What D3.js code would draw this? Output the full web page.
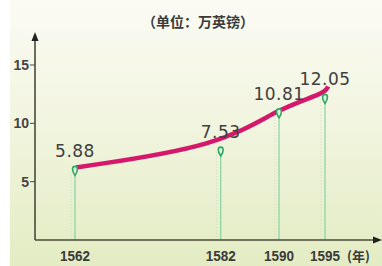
<!DOCTYPE html>
<html>
<head>
<meta charset="utf-8">
<script src="https://cdn.jsdelivr.net/npm/d3@7/dist/d3.min.js"></script>
<style>
  body { margin: 0; background: #fff; }
  svg { display: block; }
</style>
</head>
<body>
<script>
var width = 382,
    height = 266

var years = [1562, 1582, 1590, 1595]
var values = [5.88, 7.53, 10.81, 12.05]
var labels = ["5.88", "7.53", "10.81", "12.05"]
var yTicks = [5, 10, 15]

var svg = d3.select("body").append("svg")
    .attr("width", width)
    .attr("height", height)

var defs = svg.append("defs")
var grad = defs.append("linearGradient")
    .attr("id", "bg")
    .attr("x1", 0).attr("y1", 0).attr("x2", 0).attr("y2", 1)
grad.append("stop").attr("offset", "0%").attr("stop-color", "#fbfbf4")
grad.append("stop").attr("offset", "45%").attr("stop-color", "#f2f5e0")
grad.append("stop").attr("offset", "100%").attr("stop-color", "#e3ecc3")

svg.append("rect")
    .attr("x", 10).attr("y", 0)
    .attr("width", width - 10).attr("height", height)
    .attr("fill", "url(#bg)")

var x = d3.scaleLinear()
    .domain([1562, 1590, 1595])
    .range([75, 279, 325])

var y = d3.scaleLinear()
    .domain([0, 15])
    .range([240, 65])

var g = svg.append("g")

// title
g.append("text")
    .attr("x", 198).attr("y", 27)
    .attr("text-anchor", "middle")
    .style("font-family", "Noto Sans CJK SC")
    .style("font-weight", "bold")
    .style("font-size", "14px")
    .style("fill", "#3a3a3a")
    .text("（单位：万英镑）")

// drop lines
g.selectAll(".dotline")
    .data(years)
    .enter()
    .append("line")
    .attr("x1", d => x(d) - 4).attr("x2", d => x(d) - 4)
    .attr("y1", (d, i) => y(values[i])).attr("y2", 240)
    .style("stroke", "#c9d6b0")
    .style("stroke-width", "0.8px")
    .style("stroke-dasharray", "1,2")

g.selectAll(".drop")
    .data(years)
    .enter()
    .append("line")
    .attr("x1", d => x(d)).attr("x2", d => x(d))
    .attr("y1", (d, i) => y(values[i])).attr("y2", 240)
    .style("stroke", "#86d2a0")
    .style("stroke-width", "1.2px")

// curve
var pts = years.map((d, i) => [x(d), y(values[i]) - 6])
pts[0] = [x(1562) + 1, y(values[0]) - 4]
pts.push([x(1595) + 3, y(values[3]) - 13])
var line = d3.line().curve(d3.curveBasis)
g.append("path")
    .attr("d", line(pts))
    .style("fill", "none")
    .style("stroke", "#d6186c")
    .style("stroke-width", "4.5px")
    .style("stroke-linecap", "butt")

// markers (pin shape)
var pin = "M0,-5 C3,-5 3.5,-1 0,4 C-3.5,-1 -3,-5 0,-5 Z"
g.selectAll(".marker")
    .data(years)
    .enter()
    .append("path")
    .attr("transform", (d, i) => "translate(" + x(d) + "," + y(values[i]) + ")")
    .attr("d", pin)
    .style("fill", "#dff3e4")
    .style("stroke", "#2fa862")
    .style("stroke-width", "1.6px")

// value labels
g.selectAll(".val")
    .data(labels)
    .enter()
    .append("text")
    .attr("x", (d, i) => x(years[i]))
    .attr("y", (d, i) => y(values[i]) - 14)
    .attr("text-anchor", "middle")
    .style("font-family", "DejaVu Sans")
    .style("font-size", "17px")
    .style("letter-spacing", "0.5px")
    .style("fill", "#404040")
    .text(d => d)

// axes
g.append("line")
    .attr("x1", 35).attr("x2", 376)
    .attr("y1", 240).attr("y2", 240)
    .style("stroke", "#4a4a3a").style("stroke-width", "1.6px")
g.append("path")
    .attr("d", "M382,240 L373,236.5 L373,243.5 Z")
    .style("fill", "#222")
g.append("line")
    .attr("x1", 35).attr("x2", 35)
    .attr("y1", 240).attr("y2", 40)
    .style("stroke", "#4a4a3a").style("stroke-width", "1.6px")
g.append("path")
    .attr("d", "M35,32 L31.5,41 L38.5,41 Z")
    .style("fill", "#222")

g.selectAll(".ytick")
    .data(yTicks)
    .enter()
    .append("line")
    .attr("x1", 30).attr("x2", 35)
    .attr("y1", d => y(d)).attr("y2", d => y(d))
    .style("stroke", "#4a4a3a")

g.selectAll(".ylab")
    .data(yTicks)
    .enter()
    .append("text")
    .attr("x", 29)
    .attr("y", d => y(d) + 5)
    .attr("text-anchor", "end")
    .style("font-family", "Liberation Sans")
    .style("font-weight", "bold")
    .style("font-size", "14px")
    .style("fill", "#444")
    .text(d => d)

g.selectAll(".xlab")
    .data(years)
    .enter()
    .append("text")
    .attr("x", d => x(d))
    .attr("y", 261)
    .attr("text-anchor", "middle")
    .attr("textLength", 30)
    .attr("lengthAdjust", "spacingAndGlyphs")
    .style("font-family", "Liberation Sans")
    .style("font-weight", "bold")
    .style("font-size", "14px")
    .style("fill", "#3a3a3a")
    .text(d => d)

g.append("text")
    .attr("x", x(1595) + 22)
    .attr("y", 261)
    .style("font-family", "Noto Sans CJK SC")
    .style("font-size", "13px")
    .style("font-weight", "bold")
    .style("fill", "#3a3a3a")
    .text("(年)")
</script>
</body>
</html>
